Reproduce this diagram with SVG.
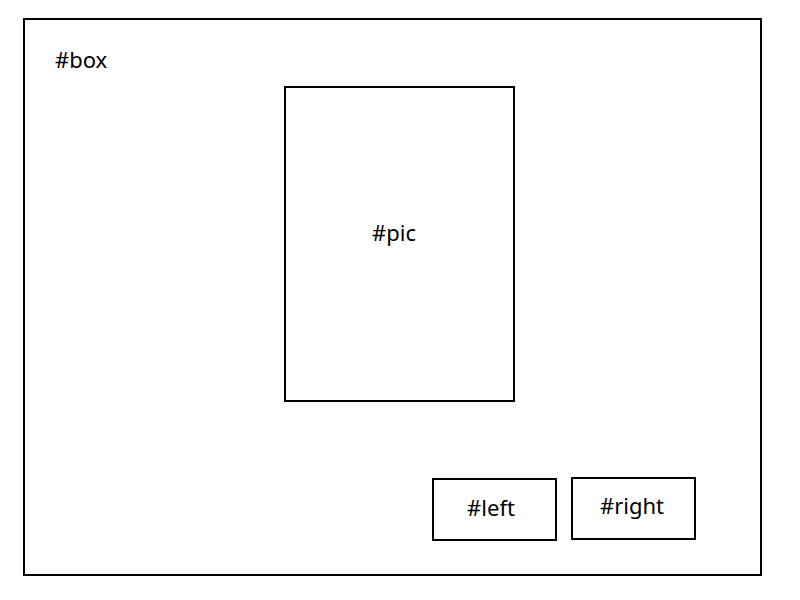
<svg xmlns="http://www.w3.org/2000/svg" width="800" height="600" viewBox="0 0 800 600">
<style>
.b{fill:#fff;stroke:#000;stroke-width:2}
.t{font-family:"Noto Sans","Open Sans",sans-serif;font-size:22px;fill:#000}
</style>
<rect width="800" height="600" fill="#fff"/>
<g id="box"><rect class="b" x="24" y="19" width="737" height="556"/><text class="t" x="55" y="68">#box</text></g>
<g id="pic"><rect class="b" x="285" y="87" width="229" height="314"/><text class="t" x="394" y="241" text-anchor="middle">#pic</text></g>
<g id="left"><rect class="b" x="433" y="479" width="123" height="61"/><text class="t" x="491" y="516" text-anchor="middle">#left</text></g>
<g id="right"><rect class="b" x="572" y="478" width="123" height="61"/><text class="t" x="632" y="514" text-anchor="middle">#right</text></g>
<g id="connectors"/>
</svg>
